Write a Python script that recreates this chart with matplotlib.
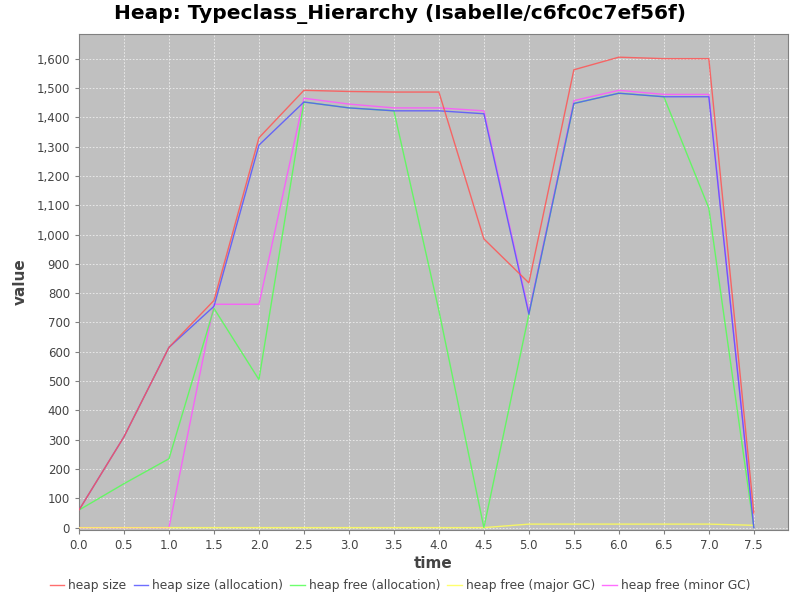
import matplotlib
matplotlib.use('Agg')
import matplotlib.pyplot as plt
from matplotlib.ticker import FuncFormatter, MultipleLocator

# data
time = [0.0, 0.5, 1.0, 1.5, 2.0, 2.5, 3.0, 3.5, 4.0, 4.5, 5.0, 5.5, 6.0, 6.5, 7.0, 7.5]
heap_size = [60, 310, 615, 775, 1330, 1492, 1488, 1486, 1486, 985, 835, 1562, 1605, 1600, 1600, 50]
heap_size_alloc = [60, 310, 615, 755, 1305, 1452, 1432, 1422, 1422, 1412, 728, 1447, 1482, 1470, 1470, 0]
heap_free_alloc = [60, 150, 235, 748, 505, 1452, 1432, 1422, 740, 0, 728, 1447, 1482, 1470, 1090, 0]
heap_free_major = [0, 0, 0, 0, 0, 0, 0, 0, 0, 0, 12, 12, 12, 12, 12, 8]
heap_free_minor = [0, 0, 0, 762, 762, 1465, 1445, 1432, 1432, 1422, 735, 1457, 1492, 1478, 1478, 0]

series = [
    ('heap size', heap_size, '#ff5555'),
    ('heap size (allocation)', heap_size_alloc, '#5555ff'),
    ('heap free (allocation)', heap_free_alloc, '#55ff55'),
    ('heap free (major GC)', heap_free_major, '#ffff55'),
    ('heap free (minor GC)', heap_free_minor, '#ff55ff'),
]

fig = plt.figure(figsize=(8, 6), dpi=100)
ax = fig.add_axes([0.09875, 0.1167, 0.88625, 0.8266])
ax.set_facecolor('#c0c0c0')

# first series ends up on top, like the original renderer
n = len(series)
for i, (label, values, color) in enumerate(series):
    ax.plot(time, values, color=color, linewidth=1.0, label=label,
            alpha=0.85, zorder=3 + n - i)

ax.set_xlim(0, 7.88)
ax.set_ylim(-8, 1684)
ax.xaxis.set_major_locator(MultipleLocator(0.5))
ax.yaxis.set_major_locator(MultipleLocator(100))
ax.xaxis.set_major_formatter(FuncFormatter(lambda v, p: f'{v:.1f}'))
ax.yaxis.set_major_formatter(FuncFormatter(lambda v, p: f'{int(v):,}'))
ax.grid(True, color='#eeeeee', linestyle=(0, (2, 2)), linewidth=0.6)
ax.set_axisbelow(True)

for s in ax.spines.values():
    s.set_color('#808080')
ax.tick_params(colors='#808080', labelcolor='#444444', labelsize=8.5, length=3)

ax.set_xlabel('time', fontsize=11, fontweight='bold', color='#444444', labelpad=3)
ax.set_ylabel('value', fontsize=11, fontweight='bold', color='#444444', labelpad=6)
fig.suptitle('Heap: Typeclass_Hierarchy (Isabelle/c6fc0c7ef56f)', fontsize=14.5,
             fontweight='bold', y=0.993)

fig.legend(loc='lower center', ncol=5, frameon=False, fontsize=8.8,
           handlelength=1.2, handletextpad=0.3, columnspacing=0.6,
           bbox_to_anchor=(0.5, -0.005), labelcolor='#444444')

plt.savefig('out.png', dpi=100)
plt.close()
